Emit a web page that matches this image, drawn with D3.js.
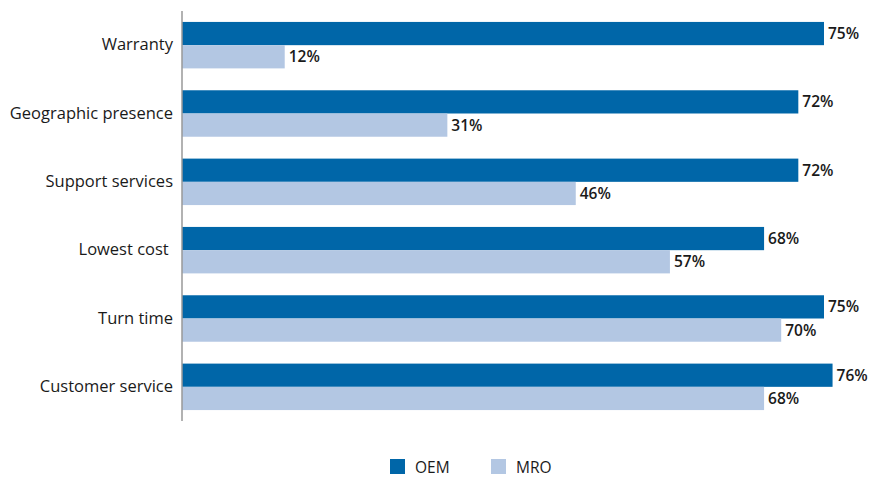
<!DOCTYPE html>
<html>
<head>
<meta charset="utf-8">
<script src="https://cdn.jsdelivr.net/npm/d3@7"></script>
<style>
  html, body { margin: 0; padding: 0; background: #fff; }
  svg { display: block; font-family: "Open Sans", "Noto Sans", sans-serif; }
</style>
</head>
<body>
<svg id="chart" width="874" height="478"></svg>
<script>
// Categories, top to bottom
const categories = ["Warranty", "Geographic presence", "Support services", "Lowest cost ", "Turn time", "Customer service"];
// Share of respondents (%)
const oemValues = [75, 72, 72, 68, 75, 76];
const mroValues = [12, 31, 46, 57, 70, 68];
const seriesNames = ["OEM", "MRO"];
const seriesColors = ["#0066a8", "#b3c7e3"];

const svg = d3.select("#chart");
const plotLeft = 182, plotRight = 182 + 100 * 8.56;
const plotTop = 11, plotBottom = 421;

const x = d3.scaleLinear().domain([0, 100]).range([plotLeft, plotRight]);
const y = d3.scaleBand().domain(categories).range([plotTop, plotBottom]).paddingInner(0.32).paddingOuter(0.16);
const ySub = d3.scaleBand().domain(seriesNames).range([0, y.bandwidth()]);

const rows = categories.map((c, i) => ({ cat: c, vals: [oemValues[i], mroValues[i]] }));

const g = svg.append("g");
const groups = g.selectAll("g.row").data(rows).join("g")
  .attr("class", "row")
  .attr("transform", d => `translate(0,${y(d.cat)})`);

groups.selectAll("rect").data(d => d.vals.map((v, j) => ({ v, s: seriesNames[j], j }))).join("rect")
  .attr("x", x(0))
  .attr("y", d => ySub(d.s))
  .attr("width", d => x(d.v) - x(0))
  .attr("height", ySub.bandwidth())
  .attr("fill", d => seriesColors[d.j]);

groups.selectAll("text.val").data(d => d.vals.map((v, j) => ({ v, s: seriesNames[j] }))).join("text")
  .attr("class", "val")
  .attr("x", d => x(d.v) + 4)
  .attr("y", d => ySub(d.s) + ySub.bandwidth() / 2)
  .attr("dy", "0.36em")
  .attr("font-size", 15.5)
  .attr("font-weight", 600)
  .attr("fill", "#1a1a1a")
  .text(d => d.v + "%");

// Category axis
const yAxis = d3.axisLeft(y).tickSize(0).tickPadding(9);
const ax = svg.append("g").attr("transform", `translate(${plotLeft},0)`).call(yAxis);
ax.select(".domain").attr("stroke", "#999").attr("stroke-width", 1.5)
  .attr("d", `M0,${plotTop}V${plotBottom}`);
ax.selectAll(".tick text")
  .attr("font-size", 16.5)
  .attr("font-family", "'Open Sans', 'Noto Sans', sans-serif")
  .attr("fill", "#1a1a1a")
  .style("white-space", "pre");

// Legend
const legend = svg.append("g").attr("transform", "translate(390,459)");
const legendX = [0, 101];
seriesNames.forEach((s, i) => {
  const lg = legend.append("g").attr("transform", `translate(${legendX[i]},0)`);
  lg.append("rect").attr("width", 15).attr("height", 15).attr("fill", seriesColors[i]);
  lg.append("text").attr("x", 25).attr("y", 8).attr("dy", "0.36em")
    .attr("font-size", 15.5).attr("fill", "#1a1a1a").text(s);
});
</script>
</body>
</html>
